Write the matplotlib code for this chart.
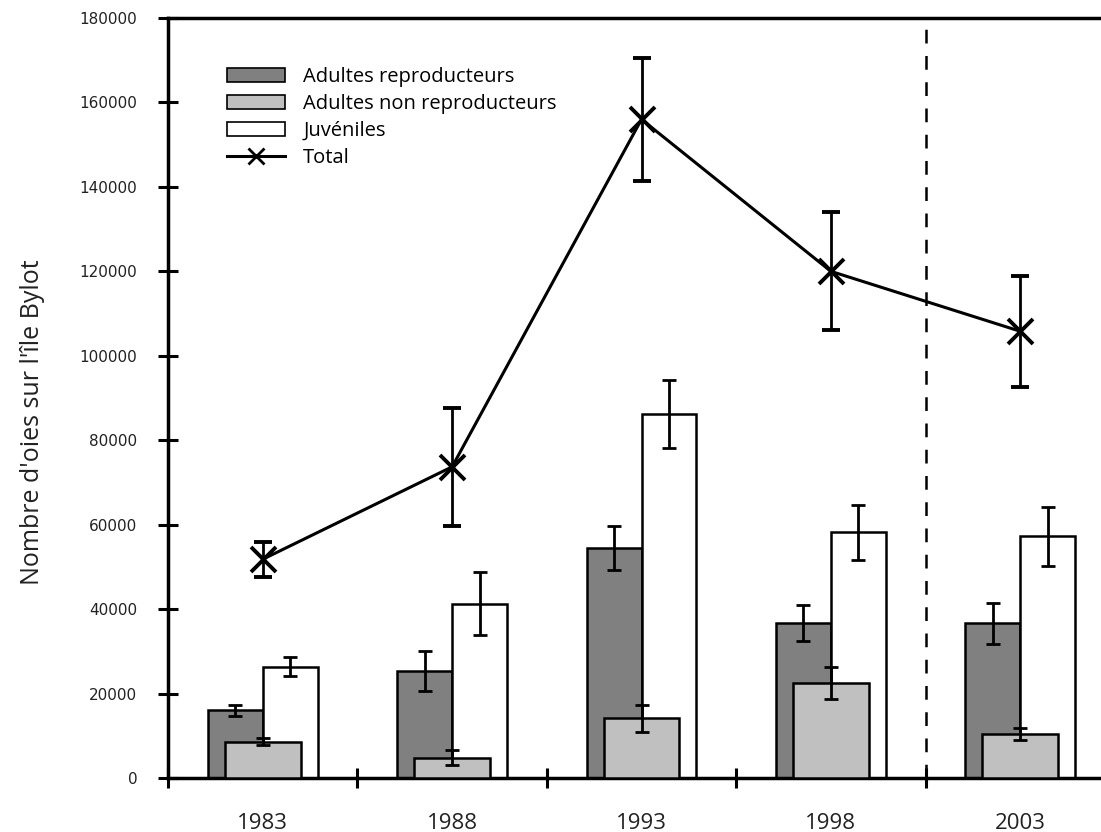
import matplotlib
matplotlib.use('Agg')
import matplotlib.pyplot as plt
import numpy as np
from matplotlib.patches import Patch
from matplotlib.lines import Line2D

# Données
annees = ['1983', '1988', '1993', '1998', '2003']
reproducteurs = [16000, 25400, 54500, 36700, 36600]
reproducteurs_err = [1300, 4700, 5300, 4300, 4800]
non_reproducteurs = [8600, 4800, 14100, 22500, 10500]
non_reproducteurs_err = [800, 1800, 3300, 3800, 1400]
juveniles = [26400, 41300, 86200, 58200, 57300]
juveniles_err = [2300, 7500, 8000, 6500, 7000]
total = [51800, 73700, 156000, 120000, 105800]
total_err = [4200, 14000, 14500, 14000, 13200]
yticks = [0, 20000, 40000, 60000, 80000, 100000, 120000, 140000, 160000, 180000]

centres = np.arange(len(annees)) + 0.5

fig = plt.figure(figsize=(11.01, 8.32), dpi=100)
ax = fig.add_axes([168 / 1101, 1 - 778 / 832, 1 - 168 / 1101, 760 / 832])

w = 0.29
ax.bar(centres - w / 2, reproducteurs, w, color='#808080', edgecolor='black', linewidth=1.8, zorder=2)
ax.bar(centres + w / 2, juveniles, w, color='white', edgecolor='black', linewidth=1.8, zorder=2)
ax.bar(centres, non_reproducteurs, 0.4, color='#c0c0c0', edgecolor='black', linewidth=1.8, zorder=3)

eb = dict(fmt='none', ecolor='black', elinewidth=2, capsize=5, capthick=2, zorder=4)
ax.errorbar(centres - w / 2, reproducteurs, yerr=reproducteurs_err, **eb)
ax.errorbar(centres + w / 2, juveniles, yerr=juveniles_err, **eb)
ax.errorbar(centres, non_reproducteurs, yerr=non_reproducteurs_err, **eb)

ax.errorbar(centres, total, yerr=total_err, color='black', linewidth=2.2, marker='x',
            markersize=18, markeredgewidth=2.8, elinewidth=2, capsize=6.5, capthick=2, zorder=5)

# ligne pointillée entre 1998 et 2003
ax.axvline(4.0, color='black', linewidth=1.8, dashes=(5.5, 5), zorder=1)

ax.set_xlim(0, 933 / 189.4)
ax.set_ylim(0, 180000)

ax.spines['right'].set_visible(False)
for s in ['left', 'bottom', 'top']:
    ax.spines[s].set_linewidth(2.5)

ax.set_yticks(yticks)
ax.set_yticklabels([str(v) for v in yticks], fontsize=11, family='DejaVu Sans', color='#222222')
ax.tick_params(axis='y', direction='inout', length=14, width=2.2, pad=15)

ax.set_xticks(np.arange(0, 5))
ax.set_xticklabels([])
ax.tick_params(axis='x', which='major', direction='inout', length=14, width=2.2)
ax.set_xticks(centres, minor=True)
ax.set_xticklabels(annees, minor=True, fontsize=16, family='Open Sans', color='#222222')
ax.tick_params(axis='x', which='minor', length=0, pad=25)

ax.set_ylabel("Nombre d'oies sur l'île Bylot", fontsize=18, family='Open Sans', color='#222222')
ax.yaxis.set_label_coords(-0.132, 0.468)

handles = [
    Patch(facecolor='#808080', edgecolor='black', linewidth=1.2),
    Patch(facecolor='#c0c0c0', edgecolor='black', linewidth=1.2),
    Patch(facecolor='white', edgecolor='black', linewidth=1.2),
    Line2D([], [], color='black', linewidth=2.2, marker='x', markersize=12, markeredgewidth=2),
]
labels = ['Adultes reproducteurs', 'Adultes non reproducteurs', 'Juvéniles', 'Total']
ax.legend(handles, labels, loc='upper left', bbox_to_anchor=(0.063, 0.9355), frameon=False,
          prop={'family': 'Open Sans', 'size': 14.5}, handlelength=2.9, handleheight=0.65,
          handletextpad=0.9, labelspacing=0.35, borderpad=0, borderaxespad=0)

fig.savefig('out.png', dpi=100)
